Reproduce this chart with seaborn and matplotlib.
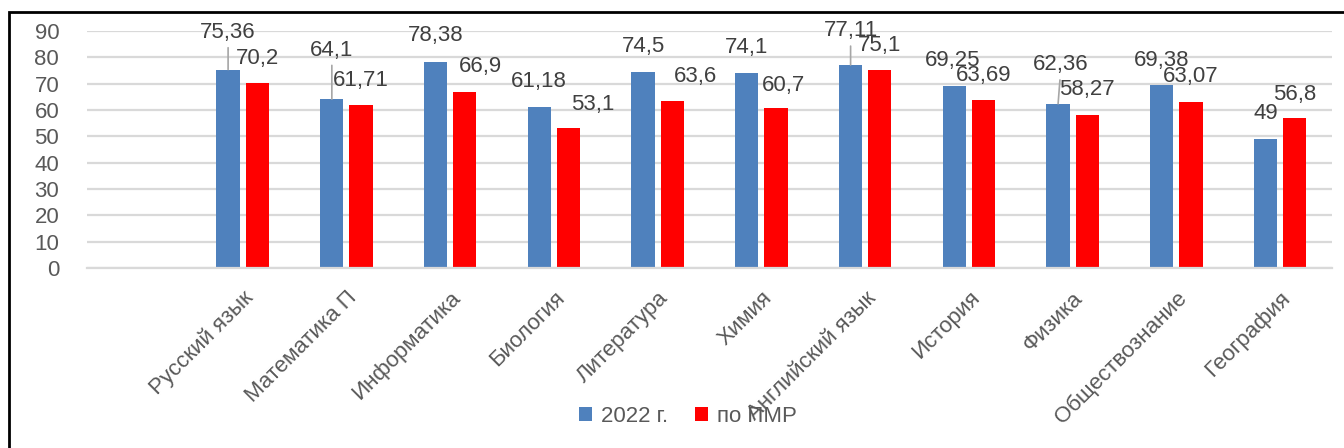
import seaborn as sns
import matplotlib.pyplot as plt
import pandas as pd
from matplotlib.patches import Rectangle

# -----------------------------------------------------------
# datos del grafico

Materias = ['Русский язык', 'Математика П', 'Информатика', 'Биология', 'Литература',
            'Химия', 'Английский язык', 'История', 'Физика', 'Обществознание', 'География']
Valores_2022 = [75.36, 64.1, 78.38, 61.18, 74.5, 74.1, 77.11, 69.25, 62.36, 69.38, 49]
Valores_PMR = [70.2, 61.71, 66.9, 53.1, 63.6, 60.7, 75.1, 63.69, 58.27, 63.07, 56.8]
Series = ['2022 г.', 'по ПМР']
Colores = ['#4f81bd', '#ff0000']
Ticks_Y = [0, 10, 20, 30, 40, 50, 60, 70, 80, 90]

# desplazamiento de las etiquetas (pixeles) respecto al tope de cada barra
Offset_2022 = [(0, 37), (0, 49), (0, 26), (-1, 25), (0, 25), (0, 25), (0, 34), (-2, 25), (3, 39), (0, 25), (0, 25)]
Offset_PMR = [(0, 25), (0, 25), (16, 25), (24, 24), (23, 24), (8, 23), (0, 25), (0, 25), (0, 25), (0, 25), (0, 24)]
Con_linea_2022 = [True, True, False, False, False, False, True, False, True, False, False]

# -----------------------------------------------------------

def etiqueta(v):
    return f"{v:g}".replace('.', ',')


def grafico_resultados():
    filas = []
    for m, a, b in zip(Materias, Valores_2022, Valores_PMR):
        filas.append({'materia': m, 'serie': Series[0], 'valor': a})
        filas.append({'materia': m, 'serie': Series[1], 'valor': b})
    Datos = pd.DataFrame(filas)

    sns.set_theme(style='white')
    plt.rcParams['font.family'] = ['Liberation Sans', 'DejaVu Sans']

    fig = plt.figure(figsize=(13.44, 4.48), dpi=100)
    ax = fig.add_axes([87 / 1344, 1 - 268 / 448, (1332 - 87) / 1344, (268 - 31) / 448])

    orden = [' '] + Materias  # primera categoria vacia como en el original
    sns.barplot(data=Datos, x='materia', y='valor', hue='serie', order=orden,
                hue_order=Series, palette=Colores, width=0.56, gap=0.2,
                saturation=1, ax=ax, edgecolor='none')

    ax.set_ylim(0, 90)
    ax.set_yticks(Ticks_Y)
    ax.yaxis.grid(True, color='#d9d9d9', lw=1.6)
    ax.set_axisbelow(True)
    for s in ['top', 'right', 'left']:
        ax.spines[s].set_visible(False)
    ax.spines['bottom'].set_color('#d9d9d9')
    ax.spines['bottom'].set_linewidth(1.6)
    ax.set_xlabel('')
    ax.set_ylabel('')
    ax.tick_params(axis='y', length=0, pad=20, labelsize=16, labelcolor='#595959')
    ax.tick_params(axis='x', length=0, pad=14, labelsize=16, labelcolor='#595959')
    plt.setp(ax.get_xticklabels(), rotation=45, ha='right', rotation_mode='anchor')

    # etiquetas de datos
    offsets = [Offset_2022, Offset_PMR]
    for k, cont in enumerate(ax.containers):
        for i, p in enumerate(cont.patches):
            x = p.get_x() + p.get_width() / 2
            y = p.get_height()
            dx, dy = offsets[k][i]
            flecha = None
            if k == 0 and Con_linea_2022[i]:
                flecha = dict(arrowstyle='-', color='#a6a6a6', lw=1.2, shrinkA=1, shrinkB=0)
            ax.annotate(etiqueta(y), xy=(x, y), xytext=(dx, dy), textcoords='offset pixels',
                        ha='center', va='center', fontsize=16, color='#404040',
                        arrowprops=flecha)

    sns.move_legend(ax, 'center', bbox_to_anchor=(688 / 1344, 1 - 416 / 448),
                    bbox_transform=fig.transFigure, ncol=2, frameon=False, title=None,
                    fontsize=16, handlelength=0.6, handleheight=0.6,
                    handletextpad=0.4, columnspacing=1.2)
    for t in ax.get_legend().get_texts():
        t.set_color('#595959')

    # marco negro del grafico
    fig.add_artist(Rectangle((9 / 1344, -0.2), 1.2, 1.2 - 12 / 448, transform=fig.transFigure,
                             fill=False, edgecolor='black', lw=2))

    fig.savefig('out.png', dpi=100)


grafico_resultados()
